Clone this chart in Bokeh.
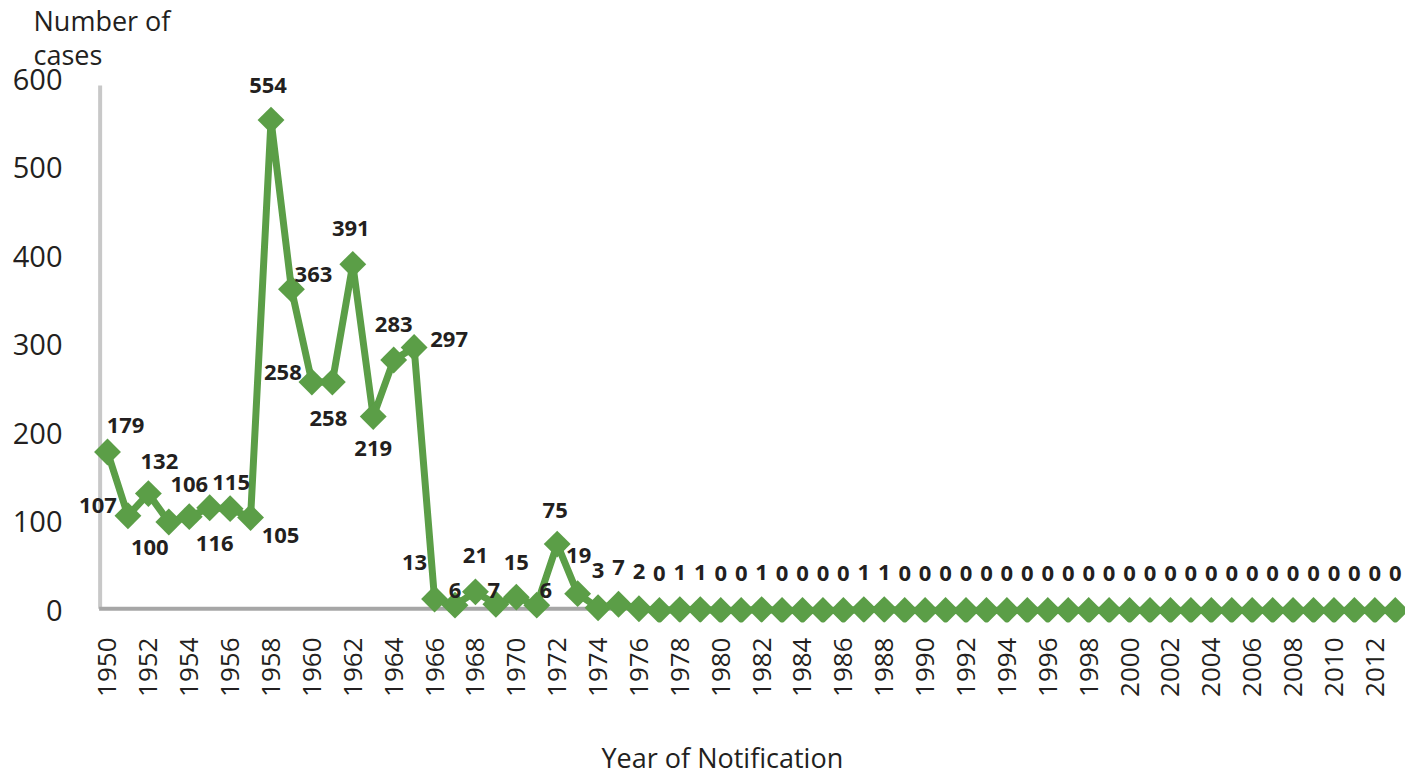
import math
from bokeh.plotting import figure
from bokeh.models import ColumnDataSource, FixedTicker, Title, Range1d
from bokeh.core.properties import value
from bokeh.embed import file_html
from bokeh.resources import INLINE

years = list(range(1950, 2014))
cases = [179, 107, 132, 100, 106, 116, 115, 105, 554, 363, 258, 258, 391, 219, 283, 297,
         13, 6, 21, 7, 15, 6, 75, 19, 3, 7, 2, 0, 1, 1, 0, 0, 1, 0, 0, 0, 0, 1, 1] + [0] * 25
x_tick_years = list(range(1950, 2013, 2))
y_ticks = [0, 100, 200, 300, 400, 500, 600]

# label placement offsets (pixels) for the value labels
label_dx = [18, -30, 11, -19, 0, 5, 1, 30, -3, 22, -29, -4, -2, 0, 0, 35,
            -20, 0, 0, -2, 0, 9, -2, 1] + [0] * 40
label_dy = [-27, -10, -32, 26, -32, 36, -26, 18, -35, -15, -10, 36, -36, 32, -35, -8,
            -36, -15, -36, -14, -35, -15, -34, -38] + [-37] * 40

GREEN = "#5b9e47"
DARK = "#231f20"
FONT = "Open Sans"
X0, X1 = 1948.19, 2013.5      # visible year range
AXIS_X = 1949.64              # position of the left axis line

p = figure(width=1405, height=775, output_backend="svg", toolbar_location=None,
           x_range=Range1d(X0, X1), y_range=Range1d(-13.6, 606.6),
           min_border_left=70, min_border_right=0, min_border_top=66, min_border_bottom=140)
p.outline_line_color = None
p.grid.visible = False
p.background_fill_color = "white"
p.border_fill_color = "white"

# axes styling
p.xaxis.ticker = FixedTicker(ticks=x_tick_years)
p.xaxis.major_label_orientation = math.pi / 2
p.xaxis.axis_line_color = None
p.xaxis.major_tick_line_color = None
p.xaxis.major_tick_out = 0
p.xaxis.major_tick_in = 0
p.xaxis.minor_tick_line_color = None
p.xaxis.major_label_standoff = 15
p.xaxis.major_label_text_font = FONT
p.xaxis.major_label_text_font_size = "26px"
p.xaxis.major_label_text_color = DARK

p.yaxis.ticker = FixedTicker(ticks=y_ticks)
p.yaxis.axis_line_color = None
p.yaxis.major_tick_line_color = None
p.yaxis.major_tick_out = 0
p.yaxis.major_tick_in = 0
p.yaxis.minor_tick_line_color = None
p.yaxis.major_label_standoff = 8
p.yaxis.major_label_text_font = FONT
p.yaxis.major_label_text_font_size = "29px"
p.yaxis.major_label_text_color = DARK

# axis lines drawn inside the frame
p.segment(x0=[AXIS_X], y0=[2], x1=[AXIS_X], y1=[593], line_color="#c8c8c8", line_width=4)
p.segment(x0=[AXIS_X - 0.05], y0=[2], x1=[X1], y1=[2], line_color="#a6a6a6", line_width=4)

src = ColumnDataSource(dict(x=years, y=cases, t=[str(c) for c in cases],
                            dx=label_dx, dy=label_dy))
p.line("x", "y", source=src, line_color=GREEN, line_width=7)
p.scatter("x", "y", source=src, marker="square", angle=math.pi / 4, size=19,
          fill_color=GREEN, line_color=None)
p.text("x", "y", text="t", source=src, x_offset="dx", y_offset="dy",
       text_align="center", text_baseline="middle", text_font=value(FONT),
       text_font_style="bold", text_font_size="22px", text_color=DARK)

p.add_layout(Title(text="Number of\ncases", align="left", offset=-37, standoff=0,
                   text_font=FONT, text_font_size="27px", text_font_style="normal",
                   text_line_height=0.92, text_color=DARK), "above")
p.add_layout(Title(text="\nYear of Notification", align="left", offset=531, standoff=0,
                   vertical_align="bottom",
                   text_font=FONT, text_font_size="27px", text_font_style="normal",
                   text_color=DARK), "below")

open("out.html", "w").write(file_html(p, INLINE))
